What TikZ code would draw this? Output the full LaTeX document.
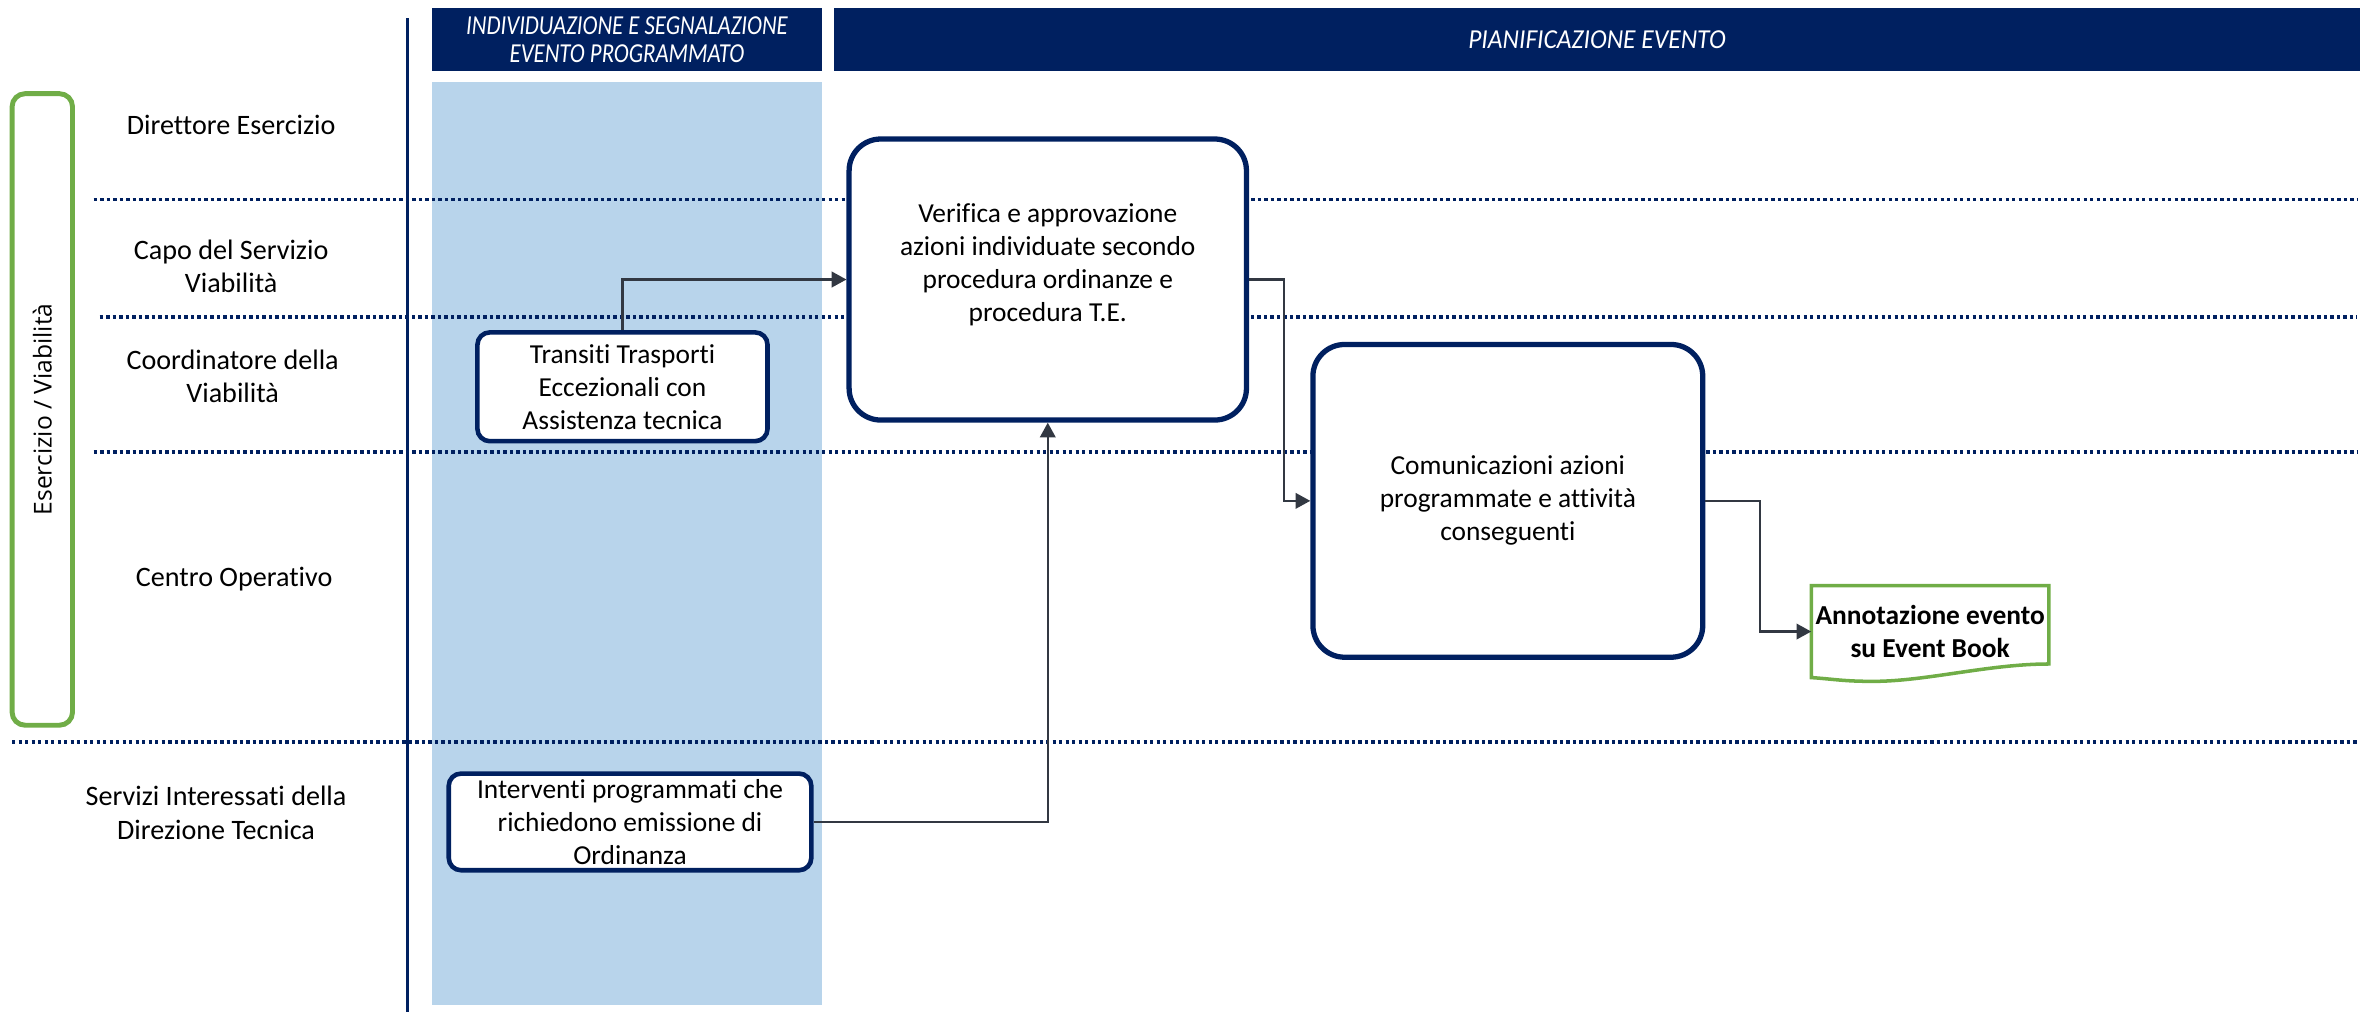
\documentclass[tikz,border=0pt]{standalone}
\usepackage{fontspec}
\setmainfont{Carlito}[Ligatures=CommonOff]
\newfontfamily\lanefont{Open Sans}
\newfontfamily\headfont[FakeStretch=0.93,Ligatures=CommonOff]{Carlito}
\newfontfamily\headnarrowfont[FakeStretch=0.83,Ligatures=CommonOff]{Carlito}
\usepackage{tikz}
\usetikzlibrary{arrows.meta}
\usetikzlibrary{calc}
\definecolor{navy}{RGB}{0,32,96}
\definecolor{colBlue}{RGB}{184,212,235}
\definecolor{laneGreen}{RGB}{112,173,71}
\definecolor{arrowGray}{RGB}{50,56,66}
\newlength{\px}
\setlength{\px}{0.01511cm}

\begin{document}
\begin{tikzpicture}[x=0.01511cm,y=-0.01511cm]
\tikzset{font=\fontsize{7.8}{9.4}\selectfont}
\tikzset{lanelabel/.style={align=center, font=\fontsize{8}{9.4}\selectfont}}
\tikzset{headbox/.style={fill=navy, text=white, align=center, inner sep=0pt, minimum height=42*\px}}
\tikzset{taskbox/.style={draw=navy, line width=1.3pt, fill=white, rounded corners=3.5pt, align=center, inner sep=0.5pt}}
\tikzset{bigtask/.style={draw=navy, line width=1.5pt, fill=white, rounded corners=9pt, align=center, inner sep=1pt}}
\tikzset{lanesep/.style={draw=navy, line width=1.1pt, dash pattern=on 0.95pt off 0.9pt}}
\tikzset{flow/.style={draw=arrowGray, line width=0.7pt, -{Triangle[length=4.2pt,width=4.4pt]}}}
\useasboundingbox (0,0) rectangle (1568,670);

% column and headers
\fill[colBlue] (286,54) rectangle (544,665);
\node[headbox, minimum width=258*\px, font=\headnarrowfont\itshape\fontsize{7.8}{8}\selectfont] (colA) at (415,26) {INDIVIDUAZIONE E SEGNALAZIONE\\EVENTO PROGRAMMATO};
\node[headbox, minimum width=1010*\px, font=\headfont\itshape\fontsize{7.8}{8}\selectfont] (colB) at (1057,26) {PIANIFICAZIONE EVENTO};
\draw[navy, line width=0.85pt] (270,12) -- (270,670);

% lanes
\foreach \y/\x in {132/62, 210/66, 299/62, 491/8}
  \draw[lanesep] (\x,\y) -- (1560,\y);
\node[draw=laneGreen, line width=1.4pt, rounded corners=3.7pt, rotate=90, minimum width=418*\px, minimum height=40*\px, font=\lanefont\fontsize{7}{8}\selectfont] (grp) at (28,271) {Esercizio / Viabilità};
\node[lanelabel] (dirEs) at (153,83) {Direttore Esercizio};
\node[lanelabel] (capo) at (153,176) {Capo del Servizio\\Viabilità};
\node[lanelabel] (coord) at (154,249) {Coordinatore della\\Viabilità};
\node[lanelabel] (centro) at (155,383) {Centro Operativo};
\node[lanelabel] (servizi) at (143,538) {Servizi Interessati della\\Direzione Tecnica};

% tasks
\node[taskbox, minimum width=192*\px, minimum height=72*\px] (transiti) at (412,256) {Transiti Trasporti\\Eccezionali con\\Assistenza tecnica};
\node[taskbox, minimum width=240*\px, minimum height=64*\px] (interventi) at (417,544) {Interventi programmati che\\richiedono emissione di\\Ordinanza};
\node[bigtask, minimum width=263*\px, minimum height=186*\px] (verifica) at (693.5,185) {Verifica e approvazione\\azioni individuate secondo\\procedura ordinanze e\\procedura T.E.\\ \mbox{}};
\node[bigtask, minimum width=258*\px, minimum height=207*\px] (comunic) at (998,331.5) {Comunicazioni azioni\\programmate e attività\\conseguenti};
\node[inner sep=1pt, minimum width=155*\px, minimum height=60*\px, align=center, font=\bfseries\fontsize{7.8}{9.4}\selectfont] (annot) at (1277.5,418) {Annotazione evento\\su Event Book};
\draw[laneGreen, line width=1pt] (annot.north west) -- (annot.north east) -- ($(annot.south east)+(0,-9)$)
  .. controls +(-40,0) and +(35,0) .. ($(annot.south west)+(41,2.5)$)
  .. controls +(-20,0) and +(15,1) .. (annot.south west) -- cycle;

% flows
\draw[flow] (transiti.north) |- (verifica.west);
\draw[flow] (interventi.east) -| (verifica.south);
\draw[flow] (verifica.east) -- ++(23,0) |- (comunic.west);
\draw[flow] (comunic.east) -- ++(36,0) |- (annot.west);
\end{tikzpicture}
\end{document}
